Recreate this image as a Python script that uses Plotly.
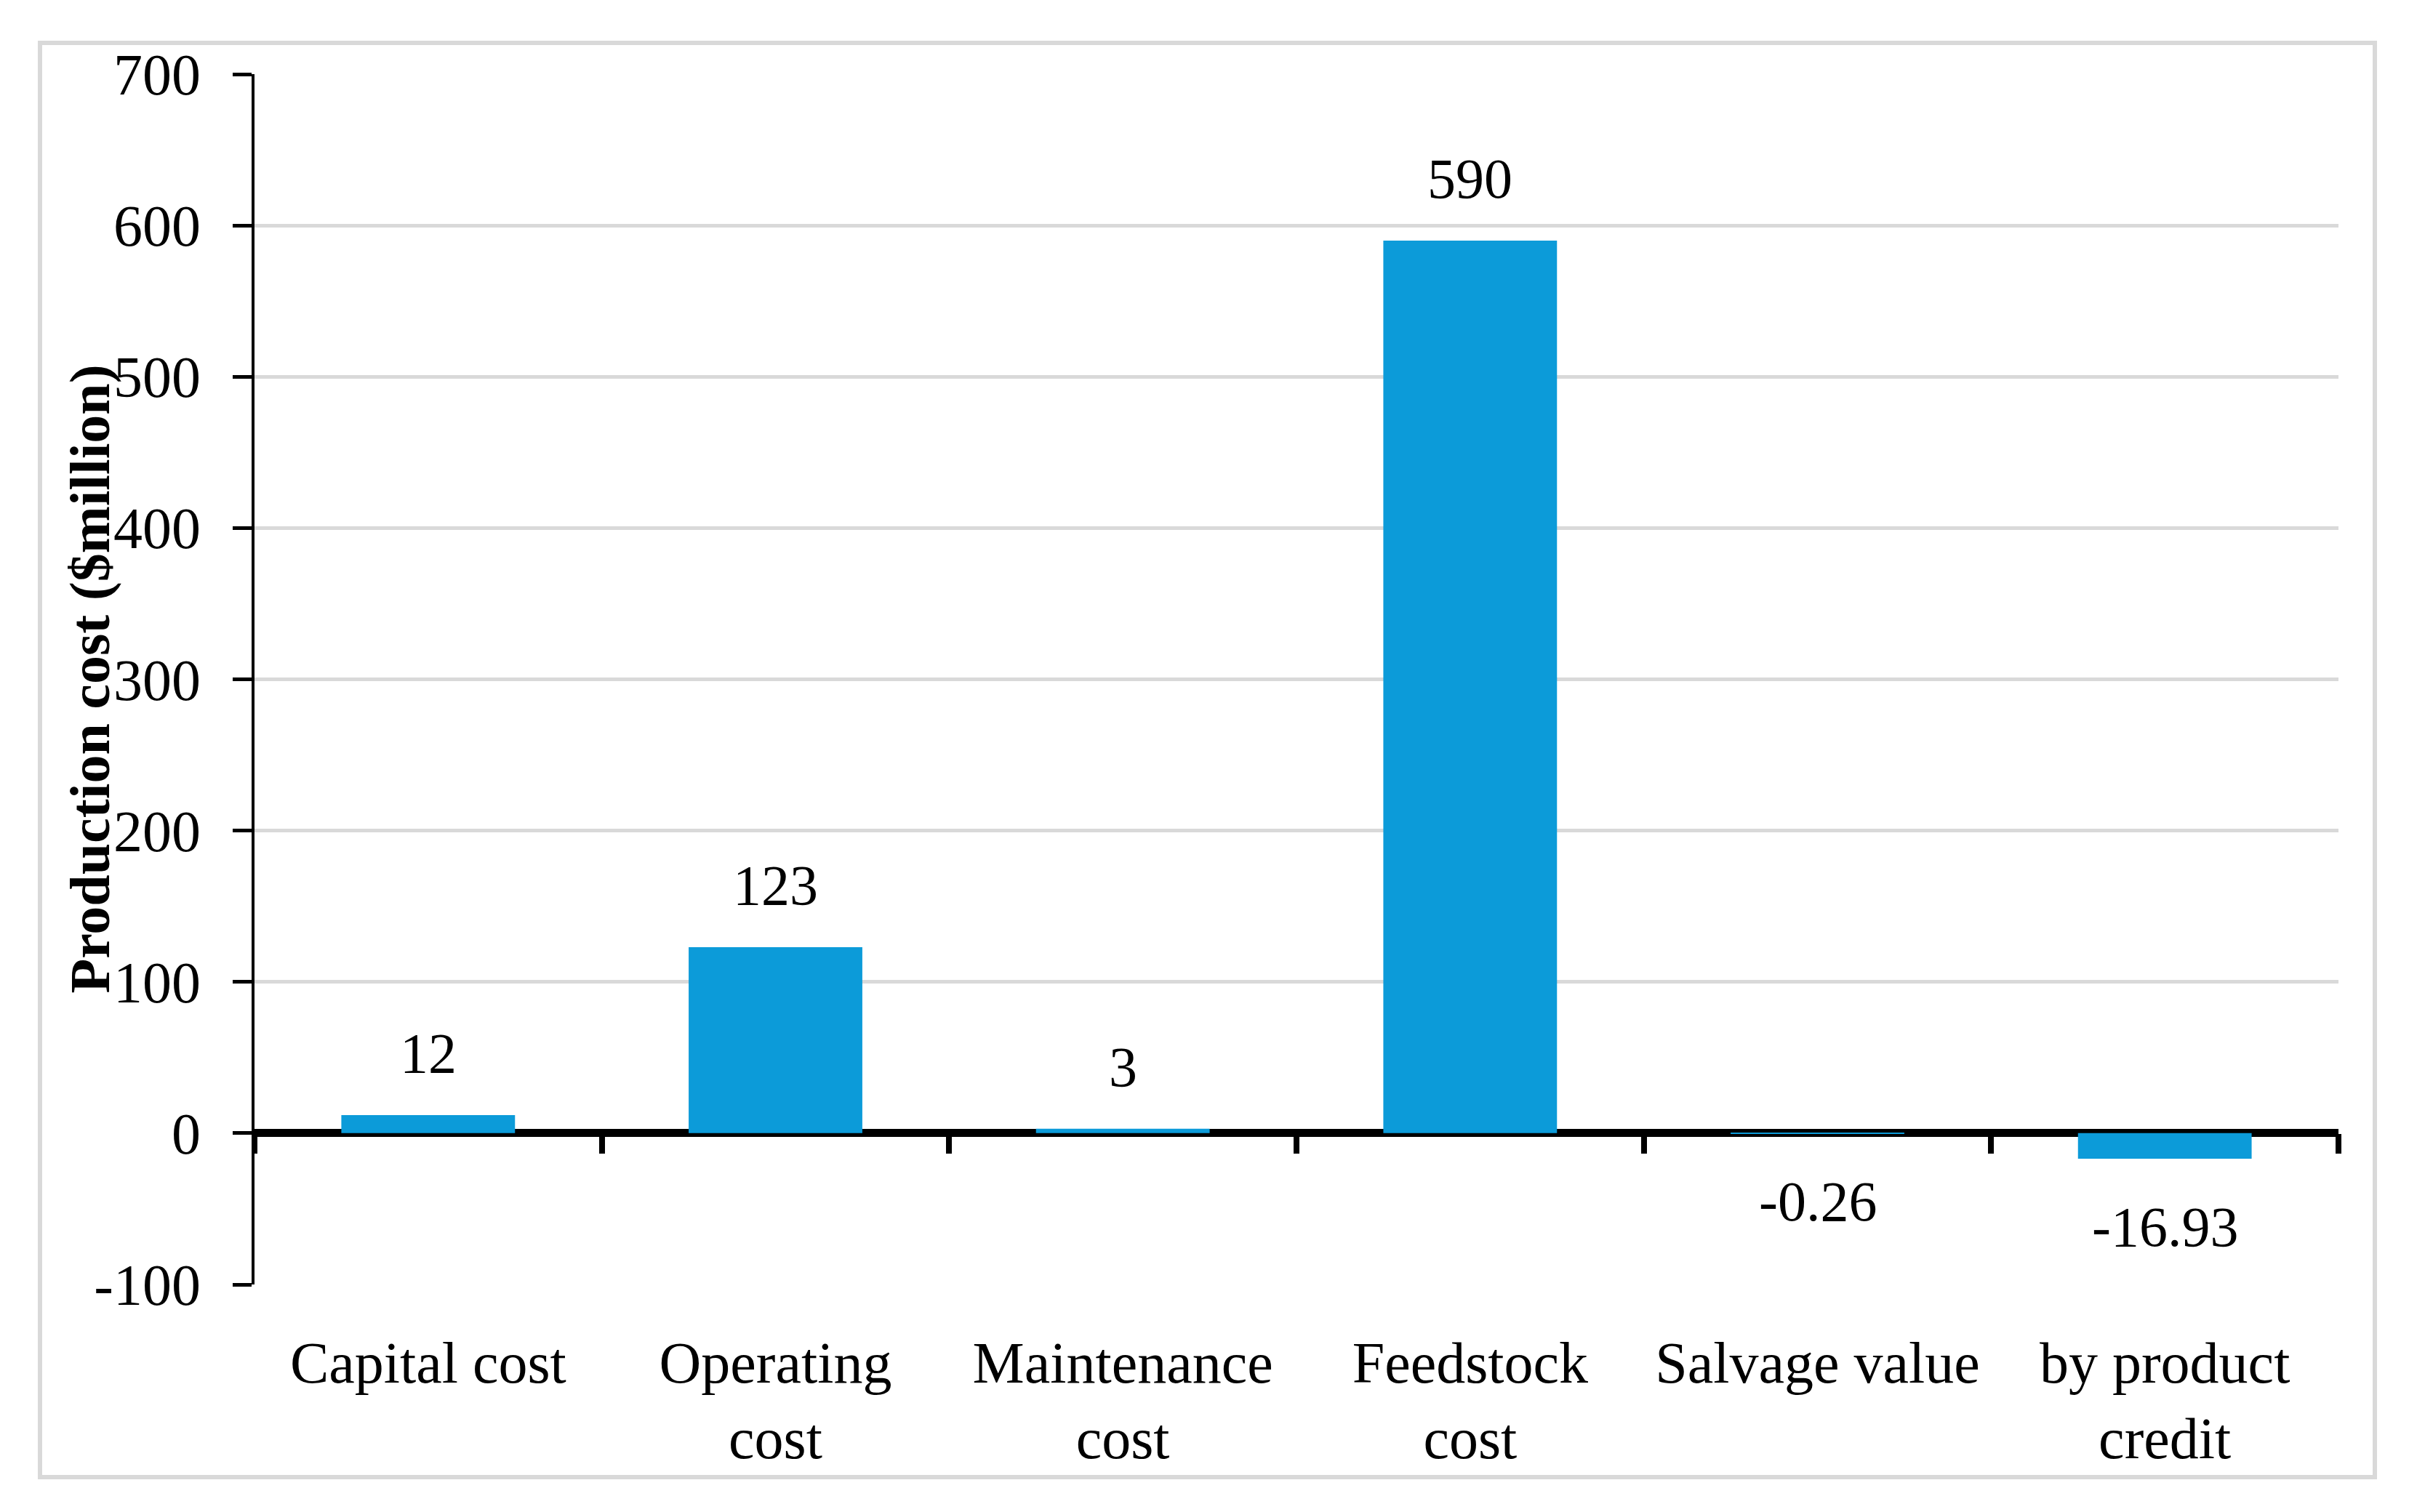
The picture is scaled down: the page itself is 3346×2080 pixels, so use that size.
import plotly.graph_objects as go

categories = ["Capital cost", "Operating<br>cost", "Maintenance<br>cost",
              "Feedstock<br>cost", "Salvage value", "by product<br>credit"]
values = [12, 123, 3, 590, -0.26, -16.93]
value_labels = ["12", "123", "3", "590", "-0.26", "-16.93"]
y_ticks = [-100, 0, 100, 200, 300, 400, 500, 600, 700]
y_tick_labels = ["-100", "0", "100", "200", "300", "400", "500", "600", "700"]
y_title = "Production cost ($million)"

W, H = 3346, 2080
OFFX, OFFY = 4, 8  # page offset
L, R, T, B = 346 - OFFX, 138, 102 - OFFY, 313 + OFFY
FONT = "Liberation Serif"
ymin, ymax = -100, 700
PW, PH = W - L - R, H - T - B

fig = go.Figure()
fig.add_trace(go.Bar(
    x=categories, y=values, width=0.5,
    marker=dict(color="#0C9BD9", line=dict(width=0)),
    hoverinfo="skip", showlegend=False))
# helper trace so the boundary-tick axis at y=0 has categories
fig.add_trace(go.Scatter(
    x=categories, y=values, xaxis="x2", mode="markers",
    marker=dict(opacity=0), hoverinfo="skip", showlegend=False))

annotations = []
for c, v, t in zip(categories, values, value_labels):
    annotations.append(dict(
        x=c, y=v, xref="x", yref="y", text=t, showarrow=False,
        yshift=85 if v >= 0 else -93, yanchor="middle",
        font=dict(family=FONT, size=78, color="black")))

annotations.append(dict(
    x=(119 - OFFX - L) / PW, y=0.5, xref="paper", yref="paper",
    text="<b>" + y_title + "</b>", textangle=-90, showarrow=False,
    xanchor="center", yanchor="middle",
    font=dict(family=FONT, size=78, color="black")))

fig.update_layout(
    width=W, height=H,
    margin=dict(l=L, r=R, t=T, b=B),
    paper_bgcolor="white", plot_bgcolor="white",
    font=dict(family=FONT, color="black"),
    bargap=0.5,
    xaxis=dict(
        type="category", categoryorder="array", categoryarray=categories,
        range=[-0.5, 5.5], showgrid=False, showline=False, zeroline=False,
        ticks="", tickfont=dict(family=FONT, size=80, color="black"),
        ticklabelstandoff=54),
    xaxis2=dict(
        type="category", categoryorder="array", categoryarray=categories,
        range=[-0.5, 5.5], overlaying="x", anchor="free",
        position=(0 - ymin) / (ymax - ymin), side="bottom",
        showgrid=False, showline=False, zeroline=False,
        ticks="outside", tickson="boundaries", ticklen=27, tickwidth=8,
        tickcolor="black", showticklabels=False),
    yaxis=dict(
        range=[ymin, ymax], tickvals=y_ticks, ticktext=y_tick_labels,
        showline=True, linecolor="black", linewidth=4, ticks="outside",
        ticklen=26, tickwidth=5, tickcolor="black", showgrid=True,
        gridcolor="#D9D9D9", gridwidth=5, zeroline=True,
        zerolinecolor="black", zerolinewidth=11,
        tickfont=dict(family=FONT, size=80, color="black"),
        ticklabelstandoff=28),
    annotations=annotations,
    shapes=[dict(
        type="rect", xref="paper", yref="paper",
        x0=(51 - OFFX - L) / PW, x1=(3262 - OFFX - L) / PW,
        y0=(H - B - (2032 - OFFY)) / PH, y1=(H - B - (59 - OFFY)) / PH,
        line=dict(color="#D9D9D9", width=6), layer="below")],
)

fig.write_html("out.html")
